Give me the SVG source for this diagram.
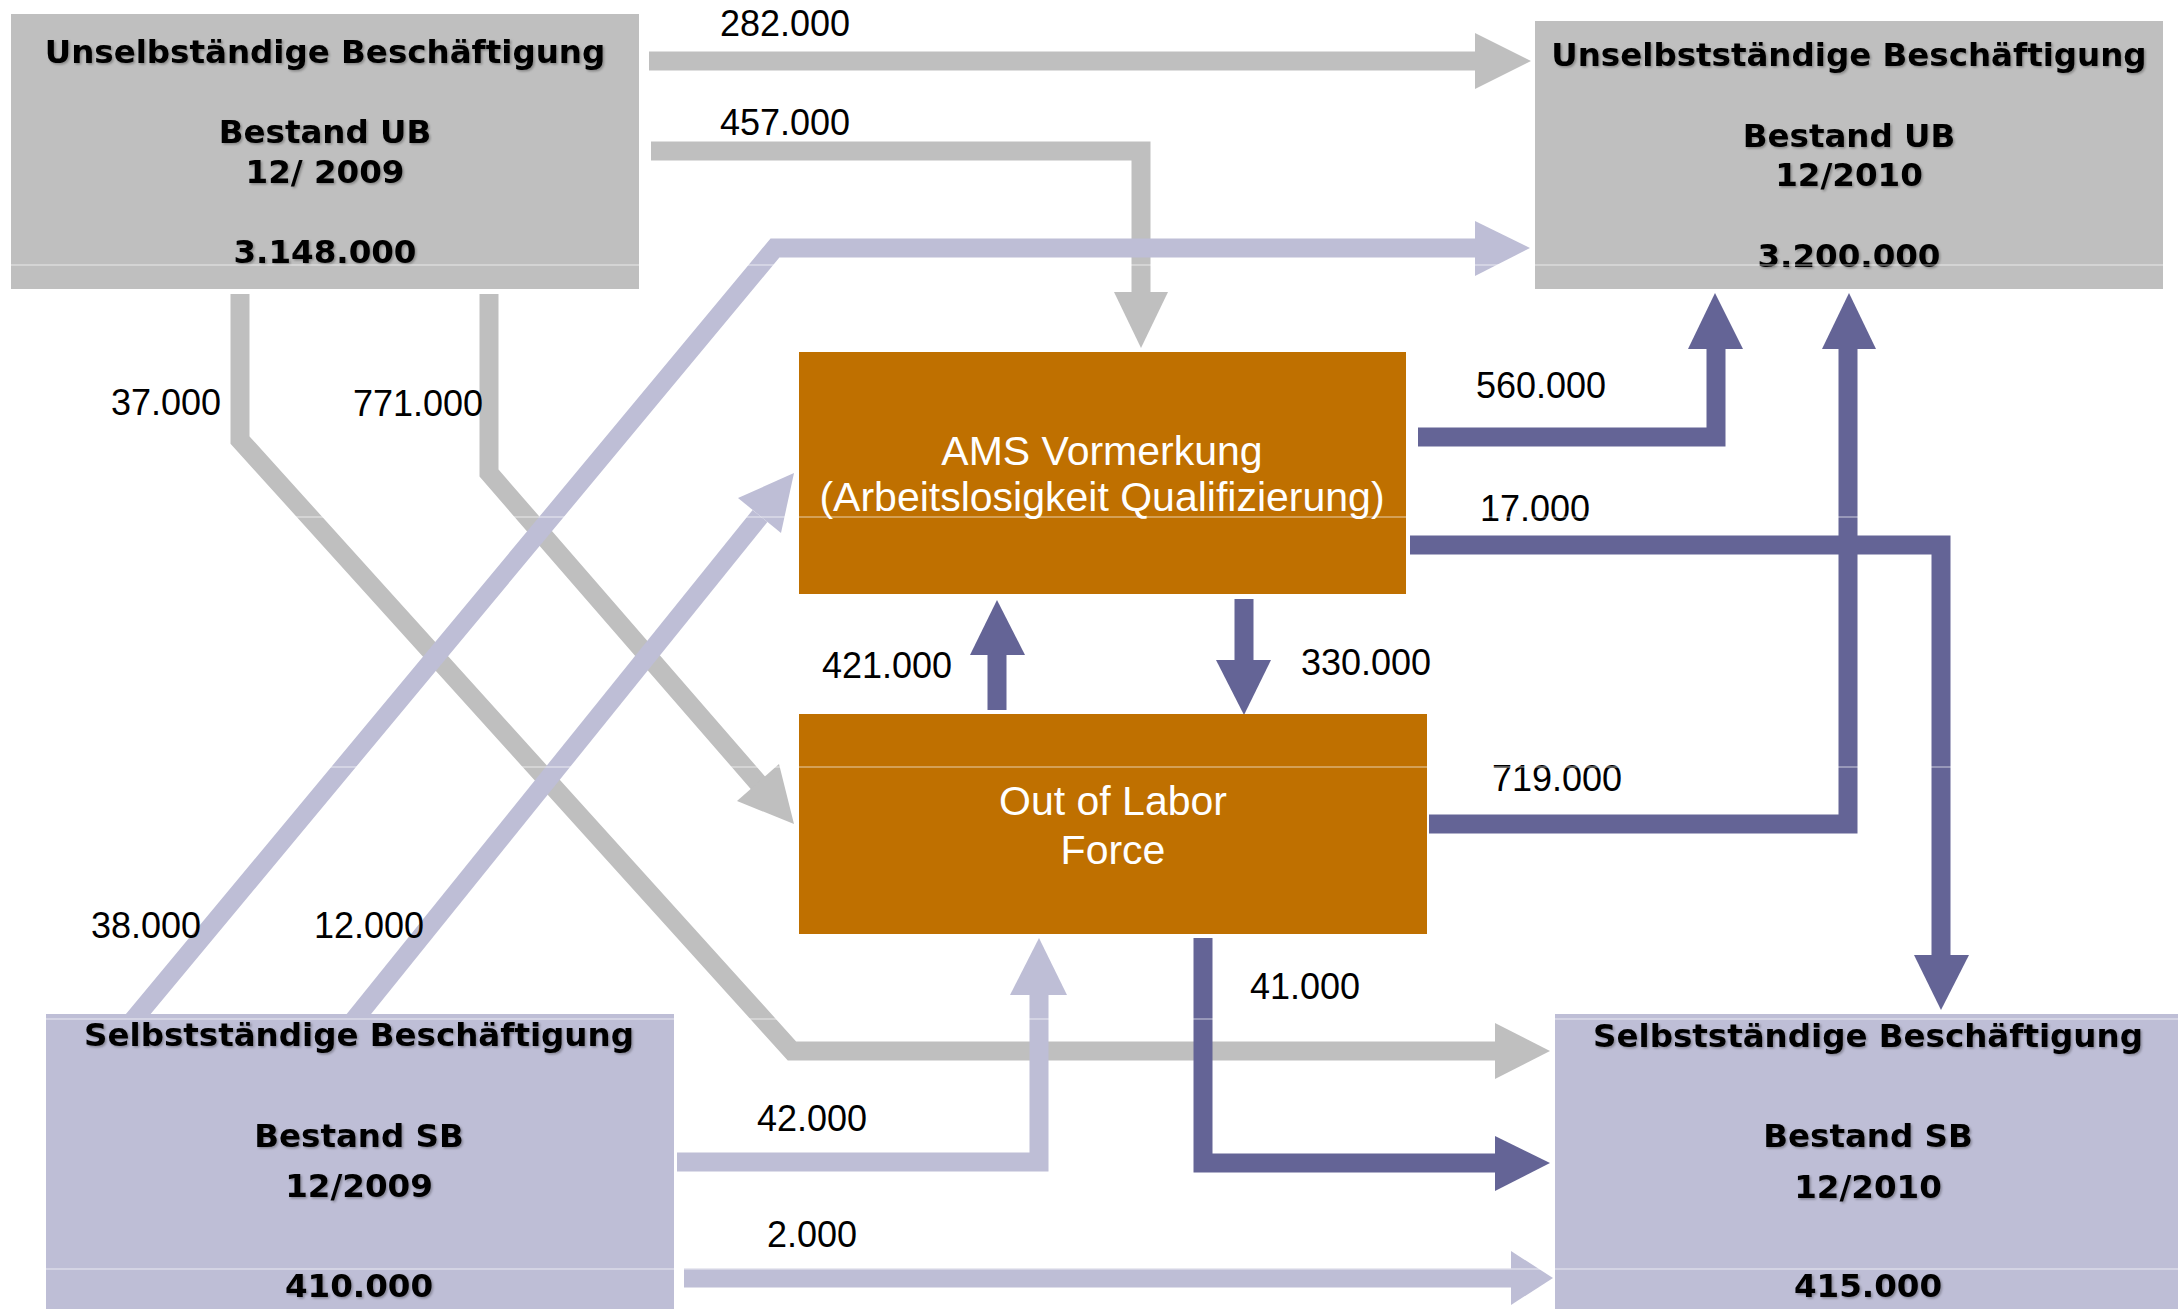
<svg xmlns="http://www.w3.org/2000/svg" width="2178" height="1309" viewBox="0 0 2178 1309">
<style>
.bg{fill:#ffffff}
.ub{fill:#bfbfbf}
.sb{fill:#bebed6}
.mid{fill:#bf7000}
.hd{font-family:"DejaVu Sans",Verdana,sans-serif;font-weight:bold;font-size:32.5px;fill:#000;text-anchor:middle}
.wt{font-family:"Liberation Sans",Arial,sans-serif;font-size:41px;fill:#fff;text-anchor:middle}
.lb{font-family:"Liberation Sans",Arial,sans-serif;font-size:36px;fill:#000}
.cg{fill:none;stroke:#bfbfbf;stroke-width:19;stroke-linejoin:miter}
.cl{fill:none;stroke:#bebed6;stroke-width:19;stroke-linejoin:miter}
.cd{fill:none;stroke:#646496;stroke-width:19;stroke-linejoin:miter}
.hg{fill:#bfbfbf}
.hl{fill:#bebed6}
.hdk{fill:#646496}
.seam{stroke:#ffffff;stroke-width:1.5;stroke-opacity:0.45}
</style>
<defs>
<filter id="sh" x="-5%" y="-20%" width="110%" height="150%">
<feDropShadow dx="1.5" dy="1.5" stdDeviation="1" flood-color="#000" flood-opacity="0.3"/>
</filter>
</defs>
<rect class="bg" x="0" y="0" width="2178" height="1309"/>

<g id="connectors">
  <!-- gray flows from UB 12/2009 -->
  <g id="c282">
    <path class="cg" d="M649,61 H1476"/>
    <polygon class="hg" points="1475,33 1531,61 1475,89"/>
  </g>
  <g id="c457">
    <path class="cg" d="M651,151 H1141 V293"/>
    <polygon class="hg" points="1114,292 1168,292 1141,348"/>
  </g>
  <g id="c37">
    <path class="cg" d="M240,294 V440 L792,1051 H1496"/>
    <polygon class="hg" points="1495,1023 1550,1051 1495,1079"/>
  </g>
  <g id="c771">
    <path class="cg" d="M489,294 V473 L759,784"/>
    <polygon class="hg" points="737,801 794,824 779,764"/>
  </g>
  <!-- light flows from SB 12/2009 -->
  <g id="c38">
    <path class="cl" d="M125,1030 L775,248 H1476"/>
    <polygon class="hl" points="1475,221 1530,248 1475,276"/>
  </g>
  <g id="c12">
    <path class="cl" d="M346,1030 L760,516"/>
    <polygon class="hl" points="738,498 794,473 781,533"/>
  </g>
  <g id="c42">
    <path class="cl" d="M677,1162 H1039 V994"/>
    <polygon class="hl" points="1010,995 1067,995 1039,938"/>
  </g>
  <g id="c2">
    <path class="cl" d="M684,1278 H1512"/>
    <polygon class="hl" points="1511,1251 1553,1278 1511,1305"/>
  </g>
  <!-- dark flows from AMS / Out of Labor Force -->
  <g id="c421">
    <path class="cd" d="M997,710 V654"/>
    <polygon class="hdk" points="970,655 1025,655 997,600"/>
  </g>
  <g id="c330">
    <path class="cd" d="M1244,599 V661"/>
    <polygon class="hdk" points="1216,660 1271,660 1244,715"/>
  </g>
  <g id="c560">
    <path class="cd" d="M1418,437 H1716 V348"/>
    <polygon class="hdk" points="1688,349 1743,349 1715,293"/>
  </g>
  <g id="c17">
    <path class="cd" d="M1410,545 H1941 V956"/>
    <polygon class="hdk" points="1914,955 1969,955 1941,1010"/>
  </g>
  <g id="c719">
    <path class="cd" d="M1429,824 H1848 V348"/>
    <polygon class="hdk" points="1822,349 1876,349 1849,293"/>
  </g>
  <g id="c41">
    <path class="cd" d="M1203,938 V1163 H1496"/>
    <polygon class="hdk" points="1495,1136 1550,1163 1495,1191"/>
  </g>
</g>

<g id="node-ub2009">
  <rect class="ub" x="11" y="14" width="628" height="275"/>
  <g class="hd" filter="url(#sh)">
    <text x="325" y="63">Unselbständige Beschäftigung</text>
    <text x="325" y="143">Bestand UB</text>
    <text x="325" y="183">12/ 2009</text>
    <text x="325" y="263">3.148.000</text>
  </g>
</g>

<g id="node-ub2010">
  <rect class="ub" x="1535" y="21" width="628" height="268"/>
  <g class="hd" filter="url(#sh)">
    <text x="1849" y="66">Unselbstständige Beschäftigung</text>
    <text x="1849" y="147">Bestand UB</text>
    <text x="1849" y="186">12/2010</text>
    <text x="1849" y="267">3.200.000</text>
  </g>
</g>

<g id="node-ams">
  <rect class="mid" x="799" y="352" width="607" height="242"/>
  <text class="wt" x="1102" y="465">AMS Vormerkung</text>
  <text class="wt" x="1102" y="511">(Arbeitslosigkeit Qualifizierung)</text>
</g>

<g id="node-olf">
  <rect class="mid" x="799" y="714" width="628" height="220"/>
  <text class="wt" x="1113" y="815">Out of Labor</text>
  <text class="wt" x="1113" y="864">Force</text>
</g>

<g id="node-sb2009">
  <rect class="sb" x="46" y="1014" width="628" height="300"/>
  <g class="hd" filter="url(#sh)">
    <text x="359" y="1046">Selbstständige Beschäftigung</text>
    <text x="359" y="1147">Bestand SB</text>
    <text x="359" y="1197">12/2009</text>
    <text x="359" y="1297">410.000</text>
  </g>
</g>

<g id="node-sb2010">
  <rect class="sb" x="1555" y="1014" width="630" height="300"/>
  <g class="hd" filter="url(#sh)">
    <text x="1868" y="1047">Selbstständige Beschäftigung</text>
    <text x="1868" y="1147">Bestand SB</text>
    <text x="1868" y="1198">12/2010</text>
    <text x="1868" y="1297">415.000</text>
  </g>
</g>

<g id="labels">
  <text class="lb" x="720" y="36">282.000</text>
  <text class="lb" x="720" y="135">457.000</text>
  <text class="lb" x="111" y="415">37.000</text>
  <text class="lb" x="353" y="416">771.000</text>
  <text class="lb" x="91" y="938">38.000</text>
  <text class="lb" x="314" y="938">12.000</text>
  <text class="lb" x="1476" y="398">560.000</text>
  <text class="lb" x="1480" y="521">17.000</text>
  <text class="lb" x="822" y="678">421.000</text>
  <text class="lb" x="1301" y="675">330.000</text>
  <text class="lb" x="1492" y="791">719.000</text>
  <text class="lb" x="1250" y="999">41.000</text>
  <text class="lb" x="757" y="1131">42.000</text>
  <text class="lb" x="767" y="1247">2.000</text>
</g>

<g id="seams">
  <line class="seam" x1="0" y1="265" x2="2178" y2="265"/>
  <line class="seam" x1="0" y1="517" x2="2178" y2="517"/>
  <line class="seam" x1="0" y1="767" x2="2178" y2="767"/>
  <line class="seam" x1="0" y1="1019" x2="2178" y2="1019"/>
  <line class="seam" x1="0" y1="1269" x2="2178" y2="1269"/>
</g>
</svg>
